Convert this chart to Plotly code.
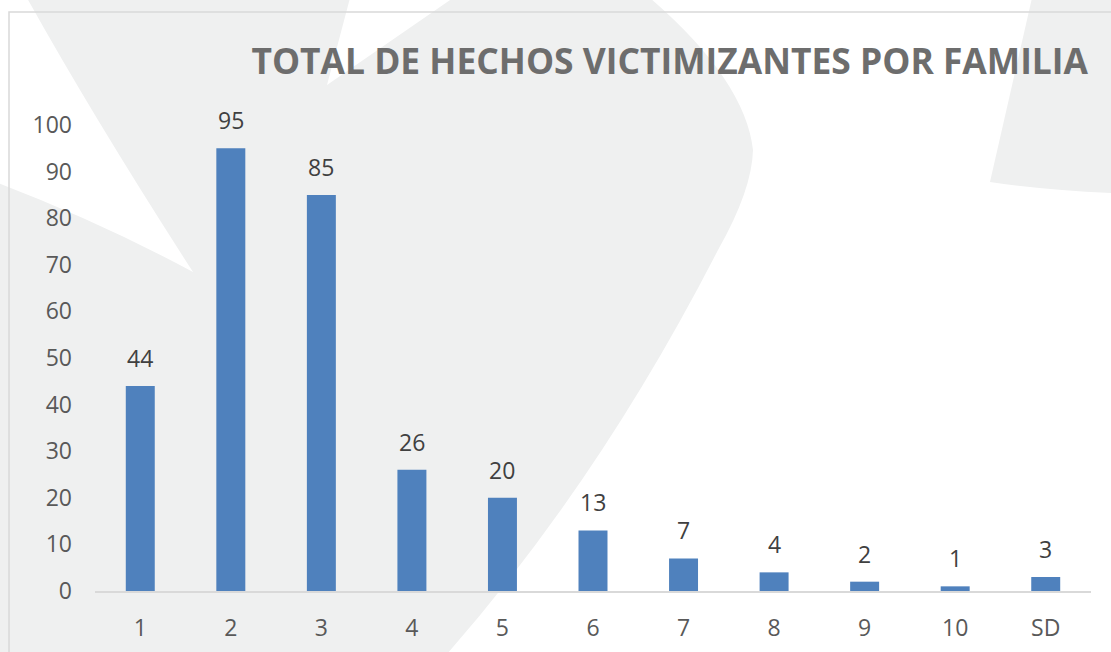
import plotly.graph_objects as go

# ---- data ----
categories = ["1", "2", "3", "4", "5", "6", "7", "8", "9", "10", "SD"]
values = [44, 95, 85, 26, 20, 13, 7, 4, 2, 1, 3]
y_ticks = [0, 10, 20, 30, 40, 50, 60, 70, 80, 90, 100]
title_text = "TOTAL DE HECHOS VICTIMIZANTES POR FAMILIA"

# ---- layout geometry ----
W, H = 1111, 652
ML, MR, MT, MB = 95, 20, 125, 61
PW = W - ML - MR
PH = H - MT - MB

def px(x):
    return (x - ML) / PW

def py(y):
    return (H - MB - y) / PH

def pt(x, y):
    return f"{px(x):.5f},{py(y):.5f}"

BAR = "#4f81bd"
GRAY_BG = "#eff0f0"

# decorative background shapes (in pixel positions converted to paper coords)
left_shape = (
    "M " + pt(-2, 654) + " L " + pt(-2, 183)
    + " Q " + pt(100, 222) + " " + pt(193, 272)
    + " Q " + pt(95, 120) + " " + pt(27, -2)
    + " L " + pt(350, -2) + " L " + pt(327, 85) + " L " + pt(453, -2)
    + " L " + pt(650, -2)
    + " Q " + pt(745, 80) + " " + pt(753, 150)
    + " Q " + pt(752, 190) + " " + pt(718, 250)
    + " Q " + pt(600, 480) + " " + pt(447, 654)
    + " Z"
)
right_shape = (
    "M " + pt(1032, -2) + " L " + pt(1113, -2) + " L " + pt(1113, 193)
    + " Q " + pt(1045, 190) + " " + pt(990, 182)
    + " Z"
)
border = "M " + pt(9, 654) + " L " + pt(9, 12) + " L " + pt(1113, 12)

shapes = [
    dict(type="path", path=left_shape, xref="paper", yref="paper",
         fillcolor=GRAY_BG, line=dict(width=0), layer="below"),
    dict(type="path", path=right_shape, xref="paper", yref="paper",
         fillcolor=GRAY_BG, line=dict(width=0), layer="below"),
    dict(type="path", path=border, xref="paper", yref="paper",
         line=dict(color="#d9d9d9", width=1.5), layer="below"),
]

fig = go.Figure()
fig.add_trace(go.Bar(
    x=categories, y=values,
    marker=dict(color=BAR, line=dict(width=0)),
    width=0.32,
    hoverinfo="skip",
))

annotations = [
    dict(x=i, y=v, xref="x", yref="y", text=str(v), showarrow=False,
         yanchor="middle", yshift=28,
         font=dict(family="Open Sans", size=23, color="#404040"))
    for i, v in enumerate(values)
]

fig.update_layout(
    width=W, height=H,
    margin=dict(l=ML, r=MR, t=MT, b=MB, autoexpand=False),
    paper_bgcolor="white",
    plot_bgcolor="rgba(0,0,0,0)",
    showlegend=False,
    shapes=shapes,
    annotations=annotations,
    title=dict(
        text=f"<b>{title_text}</b>",
        x=1088 / W, xanchor="right", xref="container",
        y=1 - 62 / H, yanchor="middle", yref="container",
        font=dict(family="Open Sans", size=35.4, color="#6d6d6d"),
    ),
    xaxis=dict(
        type="category",
        categoryorder="array", categoryarray=categories,
        showgrid=False, zeroline=False, automargin=False,
        showline=True, linecolor="#d9d9d9", linewidth=1.5,
        ticks="", ticklabelstandoff=16,
        tickfont=dict(family="Open Sans", size=23, color="#595959"),
    ),
    yaxis=dict(
        range=[0, 100], automargin=False,
        tickvals=y_ticks, ticktext=[str(t) for t in y_ticks],
        showgrid=False, zeroline=False, showline=False,
        ticks="", ticklabelstandoff=22,
        tickfont=dict(family="Open Sans", size=23, color="#595959"),
    ),
)

fig.write_html(
    "out.html",
    config={"displayModeBar": False},
    post_script="document.body.style.margin='0px';document.body.style.padding='0px';",
)
